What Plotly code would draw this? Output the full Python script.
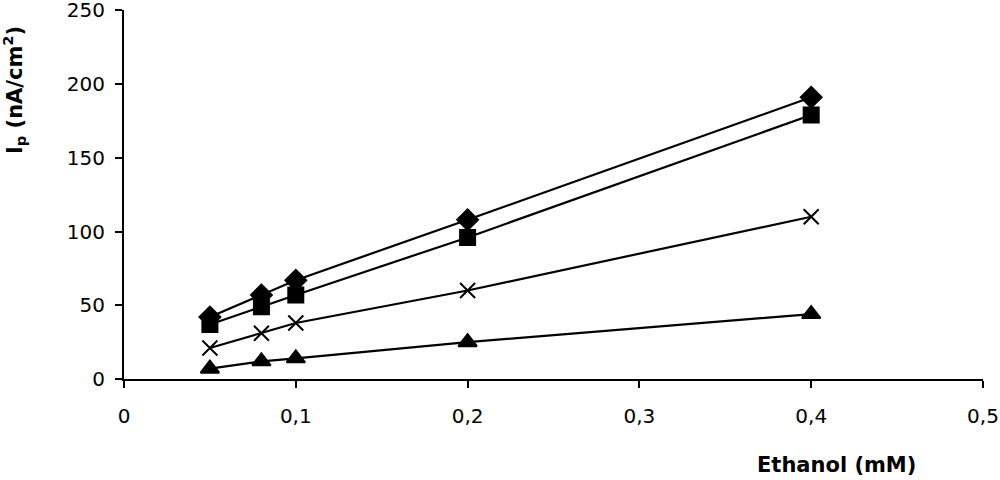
import plotly.graph_objects as go

ethanol = [0.05, 0.08, 0.1, 0.2, 0.4]
series_diamond = [42, 57, 67, 108, 191]
series_square = [37, 49, 57, 96, 179]
series_x = [21, 31, 38, 60, 110]
series_triangle = [7, 12, 14, 25, 44]

x_ticks = [0, 0.1, 0.2, 0.3, 0.4, 0.5]
x_tick_labels = ["0", "0,1", "0,2", "0,3", "0,4", "0,5"]
y_ticks = [0, 50, 100, 150, 200, 250]

fig = go.Figure()
specs = [
    (series_diamond, "diamond", 16),
    (series_square, "square", 15),
    (series_x, "x-thin", 15),
    (series_triangle, "triangle-up", 16),
]
for ys, sym, sz in specs:
    fig.add_trace(go.Scatter(
        x=ethanol, y=ys, mode="lines+markers",
        line=dict(color="black", width=2.2),
        marker=dict(symbol=sym, size=sz, color="black",
                    line=dict(color="black", width=2)),
        showlegend=False,
    ))

font = "DejaVu Sans, Arial, sans-serif"
fig.update_layout(
    width=1000, height=480,
    margin=dict(l=124, r=17, t=10, b=101),
    paper_bgcolor="white", plot_bgcolor="white",
    font=dict(family=font, size=20, color="black"),
    xaxis=dict(range=[0, 0.5], tickvals=x_ticks, ticktext=x_tick_labels,
               showgrid=False, zeroline=False, showline=True,
               linecolor="black", linewidth=2, ticks="outside",
               ticklen=7, tickwidth=2, tickcolor="black",
               tickfont=dict(family=font, size=20, color="black"),
               ticklabelstandoff=11, automargin=False,
               ticklabeloverflow="allow"),
    yaxis=dict(range=[0, 250.2], tickvals=y_ticks,
               showgrid=False, zeroline=False, showline=True,
               linecolor="black", linewidth=2, ticks="outside",
               ticklen=7, tickwidth=2, tickcolor="black",
               tickfont=dict(family=font, size=20, color="black"),
               ticklabelstandoff=6, automargin=False,
               ticklabeloverflow="allow"),
    annotations=[
        dict(text="<b>Ethanol (mM)</b>", xref="paper", yref="paper",
             x=0.83, y=-0.233, xanchor="center", yanchor="middle",
             showarrow=False, font=dict(family=font, size=21, color="black")),
        dict(text="<b>I<sub>p</sub> (nA/cm<sup>2</sup>)</b>", xref="paper", yref="paper",
             x=-0.128, y=0.783, xanchor="center", yanchor="middle",
             textangle=-90, showarrow=False,
             font=dict(family=font, size=21, color="black")),
    ],
)

fig.write_html("out.html", config={"displayModeBar": False},
               post_script="document.body.style.margin='0';document.body.style.overflow='hidden';")
